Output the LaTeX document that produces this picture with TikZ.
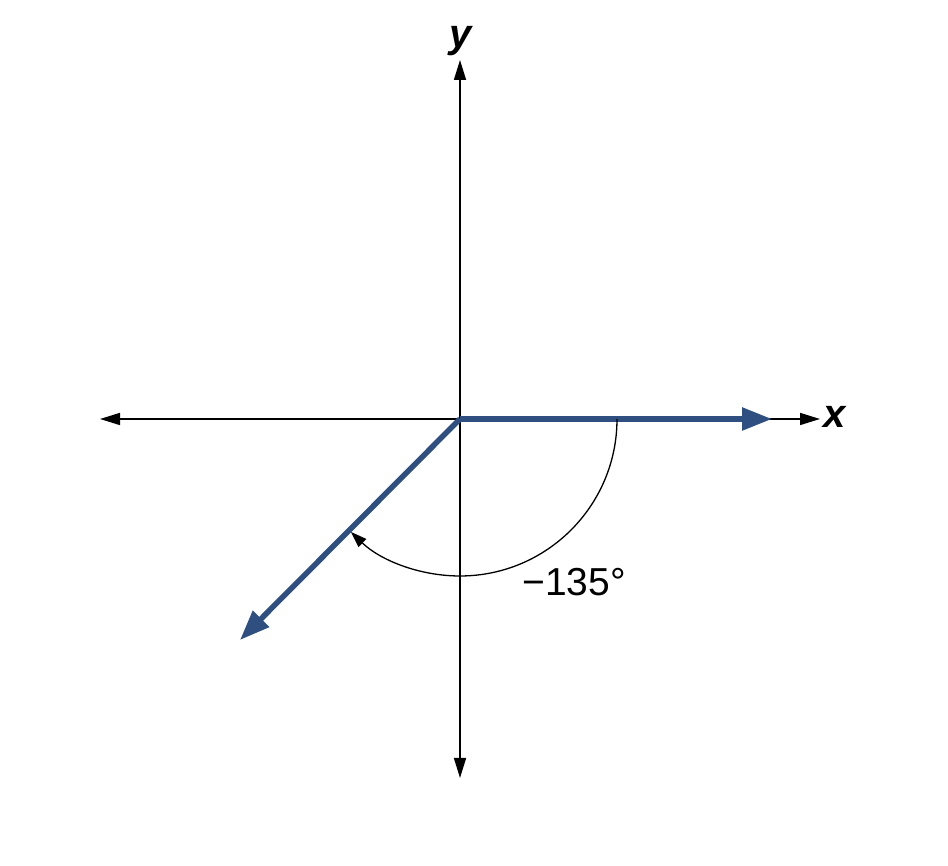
\documentclass[tikz,border=0pt]{standalone}
\usepackage{fontspec}
\setmainfont{Liberation Sans}
\usetikzlibrary{arrows.meta}
\definecolor{rayblue}{HTML}{2E4F80}
\begin{document}
\begin{tikzpicture}[x=1pt,y=1pt,
  axis/.style={line width=1.6pt,-{Triangle[length=20pt,width=12pt]}},
  ray/.style={rayblue,line width=5.5pt,-{Triangle[length=30pt,width=22pt]}},
  anglearc/.style={line width=1.3pt,-{Triangle[length=16pt,width=11pt]}},
  axlabel/.style={font=\fontsize{40}{42}\selectfont\bfseries\itshape,inner sep=0pt}]
\useasboundingbox (0,0) rectangle (948,866);
\coordinate (O) at (460,447);
\coordinate (xl) at (100,447);
\coordinate (xr) at (820,447);
\coordinate (yt) at (460,806);
\coordinate (yb) at (460,88);
\coordinate (r1) at (772,447);
\coordinate (r2) at (240,226);
\coordinate (a0) at (617,447);
\draw[axis] (O) -- (xl);
\draw[axis] (O) -- (xr);
\draw[axis] (O) -- (yt);
\draw[axis] (O) -- (yb);
\draw[ray] (O) -- (r1);
\draw[ray] (O) -- (r2);
\draw[anglearc] (a0) arc[start angle=0,end angle=-134,radius=157];
\node[axlabel,anchor=west] (xlab) at (823,449) {x};
\node[axlabel,anchor=south] (ylab) at (461,810) {y};
\node[font=\fontsize{39}{42}\selectfont,inner sep=0pt,anchor=base] (ang) at (574,270) {−135°};
\end{tikzpicture}
\end{document}
